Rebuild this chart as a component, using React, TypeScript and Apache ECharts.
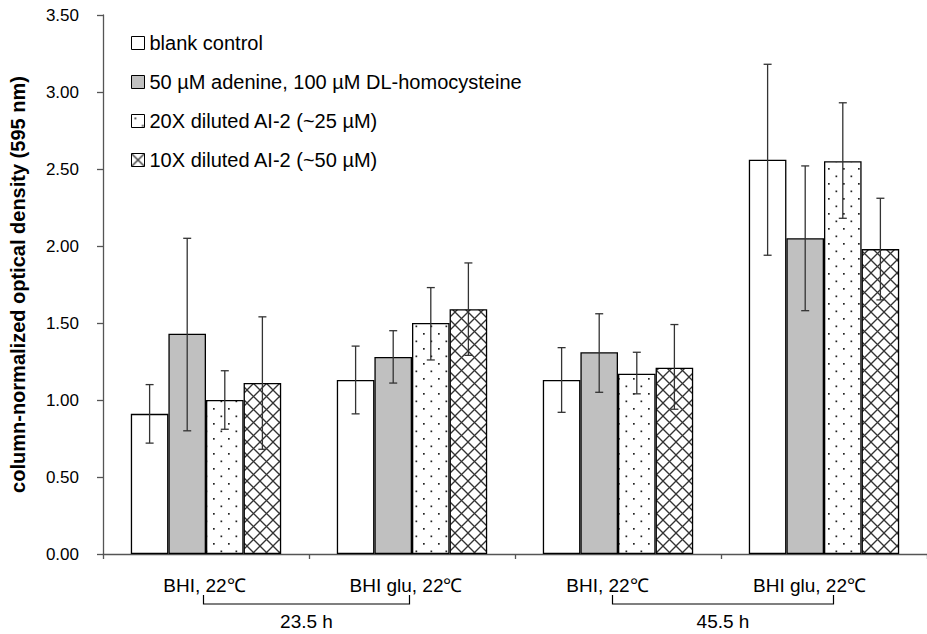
import React, { useEffect, useRef } from "react";
import * as echarts from "echarts";

const categories = ["BHI, 22℃", "BHI glu, 22℃", "BHI, 22℃", "BHI glu, 22℃"];
const seriesNames = [
  "blank control",
  "50 µM adenine, 100 µM DL-homocysteine",
  "20X diluted AI-2 (~25 µM)",
  "10X diluted AI-2 (~50 µM)",
];
const blankValues = [0.91, 1.13, 1.13, 2.56];
const blankLow = [0.72, 0.91, 0.92, 1.94];
const blankHigh = [1.1, 1.35, 1.34, 3.18];
const adenineValues = [1.43, 1.28, 1.31, 2.05];
const adenineLow = [0.8, 1.11, 1.05, 1.58];
const adenineHigh = [2.05, 1.45, 1.56, 2.52];
const ai20Values = [1.0, 1.5, 1.17, 2.55];
const ai20Low = [0.81, 1.26, 1.04, 2.18];
const ai20High = [1.19, 1.73, 1.31, 2.93];
const ai10Values = [1.11, 1.59, 1.21, 1.98];
const ai10Low = [0.68, 1.29, 0.94, 1.65];
const ai10High = [1.54, 1.89, 1.49, 2.31];
const yTicks = { min: 0, max: 3.5, interval: 0.5 };
const groupLabels = ["23.5 h", "45.5 h"];
const groupSpans = [
  [0, 1],
  [2, 3],
];

const FONT = "'Liberation Sans', Arial, sans-serif";
const BAR_FRAC = 0.1825;

function dotsPattern() {
  const c = document.createElement("canvas");
  c.width = 15;
  c.height = 15;
  const g = c.getContext("2d")!;
  g.fillStyle = "#fff";
  g.fillRect(0, 0, 15, 15);
  g.fillStyle = "#222";
  g.fillRect(3, 3, 1.7, 1.7);
  g.fillRect(10.5, 10.5, 1.7, 1.7);
  return c;
}

function crossPattern() {
  const s = 13;
  const c = document.createElement("canvas");
  c.width = s;
  c.height = s;
  const g = c.getContext("2d")!;
  g.fillStyle = "#fff";
  g.fillRect(0, 0, s, s);
  g.strokeStyle = "#333";
  g.lineWidth = 1.3;
  for (let k = -1; k <= 1; k++) {
    g.beginPath();
    g.moveTo(-2, -2 + k * s);
    g.lineTo(s + 2, s + 2 + k * s);
    g.stroke();
    g.beginPath();
    g.moveTo(-2, s + 2 + k * s);
    g.lineTo(s + 2, -2 + k * s);
    g.stroke();
  }
  return c;
}

export default function App() {
  const ref = useRef<HTMLDivElement>(null);
  useEffect(() => {
    if (!ref.current) return;
    const chart = echarts.init(ref.current, undefined, { renderer: "svg" });
    const fills: any[] = [
      "#ffffff",
      "#c0c0c0",
      { image: dotsPattern(), repeat: "repeat" },
      { image: crossPattern(), repeat: "repeat" },
    ];
    const values = [blankValues, adenineValues, ai20Values, ai10Values];
    const lows = [blankLow, adenineLow, ai20Low, ai10Low];
    const highs = [blankHigh, adenineHigh, ai20High, ai10High];
    const labelPad = [3, 12, 21, 29];

    const barSeries = seriesNames.map((name, i) => ({
      type: "bar",
      name,
      data: values[i],
      barWidth: BAR_FRAC * 100 + "%",
      barGap: "0%",
      itemStyle: { color: fills[i], borderColor: "#000", borderWidth: 1.3 },
    }));
    const errSeries = seriesNames.map((name, si) => ({
      type: "custom",
      name: name + " err",
      z: 5,
      clip: false,
      data: categories.map((_, ci) => [ci, lows[si][ci], highs[si][ci]]),
      renderItem: (params: any, api: any) => {
        const cat = api.value(0);
        const band = api.size([1, 0])[0];
        const x = api.coord([cat, 0])[0] + (si - 1.5) * band * BAR_FRAC;
        const yLo = api.coord([cat, api.value(1)])[1];
        const yHi = api.coord([cat, api.value(2)])[1];
        const st = { stroke: "#333", lineWidth: 1.3 };
        return {
          type: "group",
          children: [
            { type: "line", shape: { x1: x, y1: yLo, x2: x, y2: yHi }, style: st },
            { type: "line", shape: { x1: x - 4, y1: yHi, x2: x + 4, y2: yHi }, style: st },
            { type: "line", shape: { x1: x - 4, y1: yLo, x2: x + 4, y2: yLo }, style: st },
          ],
        };
      },
    }));

    const rich: any = {};
    labelPad.forEach((p, i) => {
      rich["a" + i] = { fontSize: 19, fontFamily: FONT, color: "#000", padding: [0, p, 0, 0] };
    });

    chart.setOption({
      animation: false,
      textStyle: { fontFamily: FONT },
      grid: { left: 93, top: 15, width: 844, height: 539 },
      legend: {
        data: seriesNames,
        orient: "vertical",
        left: 131,
        top: 33,
        padding: 0,
        itemWidth: 13,
        itemHeight: 13,
        itemGap: 19,
        icon: "rect",
        selectedMode: false,
        itemStyle: { borderColor: "#000", borderWidth: 1 },
        textStyle: { fontSize: 20, fontFamily: FONT, color: "#000", lineHeight: 20 },
      },
      xAxis: {
        type: "category",
        data: categories,
        boundaryGap: true,
        axisLine: { lineStyle: { color: "#555", width: 1.3 } },
        axisTick: { show: true, length: 5, lineStyle: { color: "#555", width: 1.3 } },
        axisLabel: {
          margin: 22,
          formatter: (v: string, i: number) => `{a${i}|${v}}`,
          rich,
        },
      },
      yAxis: {
        type: "value",
        min: yTicks.min,
        max: yTicks.max,
        interval: yTicks.interval,
        name: "column-normalized optical density (595 nm)",
        nameLocation: "middle",
        nameGap: 75,
        nameTextStyle: { fontSize: 20, fontWeight: "bold", fontFamily: FONT, color: "#000" },
        splitLine: { show: false },
        axisLine: { show: true, lineStyle: { color: "#555", width: 1.3 } },
        axisTick: { show: true, length: 6, lineStyle: { color: "#555", width: 1.3 } },
        axisLabel: {
          margin: 24,
          fontSize: 17,
          color: "#000",
          fontFamily: FONT,
          formatter: (v: number) => v.toFixed(2),
        },
      },
      series: [...barSeries, ...errSeries],
    });

    const y0 = chart.convertToPixel({ yAxisIndex: 0 }, 0) as number;
    const cx = (i: number) => chart.convertToPixel({ xAxisIndex: 0 }, i) as number;
    const offs = [
      [-2.5, -2.5],
      [-5.5, 9.5],
    ];
    const graphics: any[] = [];
    groupSpans.forEach((sp, gi) => {
      const xa = cx(sp[0]) + offs[gi][0];
      const xb = cx(sp[1]) + offs[gi][1];
      const st = { stroke: "#000", lineWidth: 1.2 };
      graphics.push(
        { type: "polyline", shape: { points: [[xa, y0 + 41], [xa, y0 + 50], [xb, y0 + 50], [xb, y0 + 41]] }, style: { ...st, fill: null } },
        {
          type: "text",
          x: (xa + xb) / 2,
          y: y0 + 67,
          style: {
            text: groupLabels[gi],
            fontSize: 19,
            fontFamily: FONT,
            fill: "#000",
            align: "center",
            verticalAlign: "middle",
          },
        }
      );
    });
    chart.setOption({ graphic: graphics });

    return () => chart.dispose();
  }, []);
  return (
    <div
      ref={ref}
      style={{ position: "fixed", left: 0, top: 0, width: 927, height: 634, background: "#fff" }}
    />
  );
}
